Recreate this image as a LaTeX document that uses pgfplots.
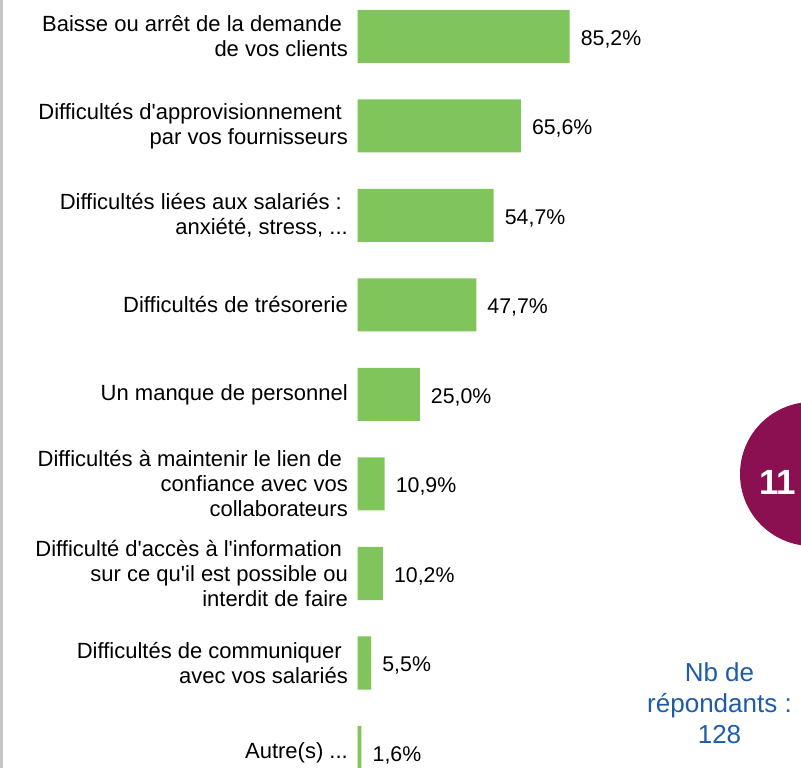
\documentclass[border=0pt]{standalone}
\usepackage{pgfplots}
\pgfplotsset{compat=1.18}
\usepackage{fontspec}
\setmainfont{Liberation Sans}[Ligatures=TeXOff]
\definecolor{bargreen}{RGB}{128,196,92}
\definecolor{badge}{RGB}{139,16,82}
\definecolor{nbblue}{RGB}{30,92,170}
\begin{document}
\begin{tikzpicture}
\useasboundingbox (0,0) rectangle (801bp,768bp);
\fill[gray!45] (0,0) rectangle (3bp,768bp);
\begin{axis}[
  at={(357.5bp,-29.25bp)}, anchor=south west,
  scale only axis, width=249bp, height=805.5bp,
  xmin=0, xmax=100, ymin=-0.5, ymax=8.5,
  axis line style={draw=none},
  xtick=\empty, ytick={0,1,2,3,4,5,6,7,8}, major tick length=0pt,
  yticklabels={
    {Autre(s) .{}.{}.},
    {Difficultés de communiquer\hspace*{6bp}\\avec vos salariés},
    {Difficulté d\textquotesingle accès à l\textquotesingle information\hspace*{6bp}\\sur ce qu\textquotesingle il est possible ou\hspace*{6bp}\\interdit de faire},
    {Difficultés à maintenir le lien de\hspace*{6bp}\\confiance avec vos\hspace*{6bp}\\collaborateurs},
    {Un manque de personnel},
    {Difficultés de trésorerie},
    {Difficultés liées aux salariés :\hspace*{6bp}\\anxiété, stress, .{}.{}.},
    {Difficultés d\textquotesingle approvisionnement\hspace*{6bp}\\par vos fournisseurs},
    {Baisse ou arrêt de la demande\hspace*{6bp}\\de vos clients}},
  y tick label style={font=\fontsize{22bp}{25bp}\selectfont, align=right, inner xsep=9.5bp},
  xbar, bar width=53bp, bar shift=0pt,
  point meta=x,
  nodes near coords={\pgfmathprintnumber[fixed,fixed zerofill,precision=1,use comma,assume math mode=true]{\pgfplotspointmeta}\%},
  nodes near coords style={font=\fontsize{21.3bp}{25bp}\selectfont, anchor=west, inner xsep=11bp, yshift=-2.5bp, text=black},
  clip=false,
]
\addplot[fill=bargreen, draw=none] coordinates {
  (1.6,0) (5.5,1) (10.2,2) (10.9,3) (25.0,4) (47.7,5) (54.7,6) (65.6,7) (85.2,8)
};
\end{axis}
\fill[badge] (812bp,294bp) circle (72bp);
\node[text=white, font=\fontsize{35bp}{40bp}\selectfont\bfseries] at (777.5bp,285.5bp) {11};
\node[text=nbblue, font=\fontsize{26bp}{31bp}\selectfont, align=center, anchor=north] at (719.5bp,108.5bp) {Nb de\\répondants :\\128};
\end{tikzpicture}
\end{document}
